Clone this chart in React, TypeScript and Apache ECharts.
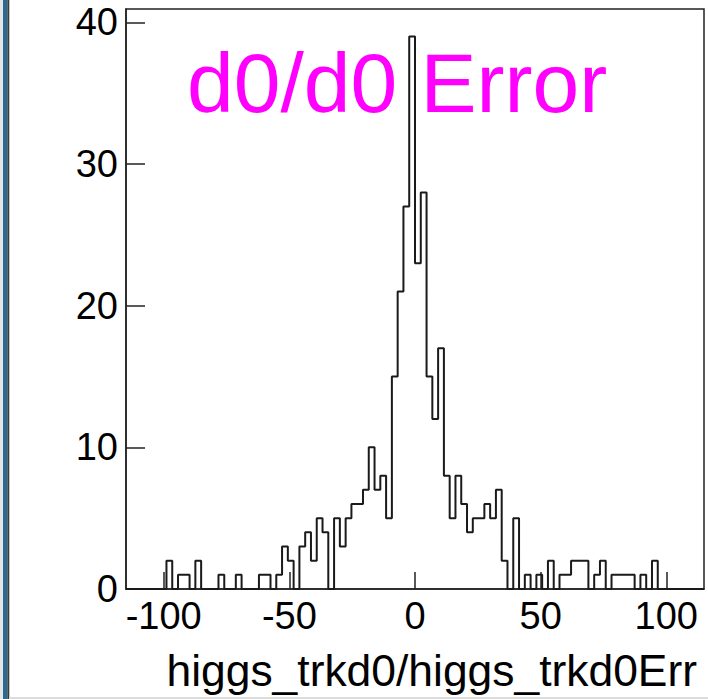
import React, { useEffect, useRef } from "react";
import * as echarts from "echarts";

// Histogram definition (100 bins from -115 to 115)
const binRangeMin = -115;
const binRangeMax = 115;
const binCounts = [
  0, 0, 0, 0, 0, 0, 0, 2, 0, 1,
  1, 0, 2, 0, 0, 0, 1, 0, 0, 1,
  0, 0, 0, 1, 1, 0, 1, 3, 2, 0,
  3, 4, 2, 5, 4, 0, 5, 3, 5, 6,
  6, 7, 10, 7, 8, 5, 15, 21, 27, 39,
  23, 28, 15, 12, 17, 8, 5, 8, 6, 4,
  5, 5, 6, 5, 7, 2, 0, 5, 0, 1,
  0, 1, 0, 2, 0, 1, 1, 2, 2, 2,
  0, 1, 2, 0, 1, 1, 1, 1, 0, 1,
  0, 2, 0, 0, 0, 0, 0, 0, 0, 0,
];
const xTickValues = [-100, -50, 0, 50, 100];
const yTickValues = [0, 10, 20, 30, 40];
const yAxisMax = 40.95;
const titleText = "d0/d0 Error";
const xAxisTitle = "higgs_trkd0/higgs_trkd0Err";

const FONT = '"Liberation Sans", Arial, Helvetica, sans-serif';

export default function App() {
  const ref = useRef<HTMLDivElement>(null);
  useEffect(() => {
    const chart = echarts.init(ref.current!, null, { renderer: "svg" });
    const bw = (binRangeMax - binRangeMin) / binCounts.length;
    const stepData: number[][] = binCounts.map((c, i) => [binRangeMin + i * bw, c]);
    stepData.push([binRangeMax, binCounts[binCounts.length - 1]]);

    chart.setOption({
      animation: false,
      backgroundColor: "#ffffff",
      grid: {
        left: 126,
        top: 9,
        width: 578,
        height: 580,
        show: true,
        borderColor: "#222",
        borderWidth: 1.5,
        backgroundColor: "transparent",
      },
      xAxis: {
        type: "value",
        min: binRangeMin,
        max: binRangeMax,
        axisLine: { show: true, onZero: false, lineStyle: { color: "#222", width: 1.5 } },
        axisTick: {
          show: true,
          inside: true,
          length: 17,
          customValues: xTickValues,
          lineStyle: { color: "#222", width: 1.5 },
        },
        axisLabel: {
          show: true,
          customValues: xTickValues,
          margin: 8,
          fontSize: 38,
          fontFamily: FONT,
          color: "#000",
        },
        splitLine: { show: false },
      },
      yAxis: {
        type: "value",
        min: 0,
        max: yAxisMax,
        axisLine: { show: true, onZero: false, lineStyle: { color: "#222", width: 1.5 } },
        axisTick: {
          show: true,
          inside: true,
          length: 19,
          customValues: yTickValues,
          lineStyle: { color: "#222", width: 1.5 },
        },
        axisLabel: {
          show: true,
          customValues: yTickValues,
          margin: 8,
          fontSize: 38,
          fontFamily: FONT,
          color: "#000",
        },
        splitLine: { show: false },
      },
      series: [
        {
          type: "line",
          step: "end",
          data: stepData,
          symbol: "none",
          lineStyle: { color: "#1a1a1a", width: 2 },
          z: 3,
        },
      ],
      graphic: [
        { type: "rect", shape: { x: 0, y: 0, width: 3, height: 699 }, style: { fill: "#e6e6e6" }, silent: true },
        { type: "rect", shape: { x: 3, y: 0, width: 4.3, height: 699 }, style: { fill: "#2b6a92" }, silent: true },
        { type: "rect", shape: { x: 7.3, y: 0, width: 2, height: 699 }, style: { fill: "#3c3c3c" }, silent: true },
        { type: "rect", shape: { x: 9.3, y: 697, width: 699, height: 2 }, style: { fill: "#dcdcdc" }, silent: true },
        {
          type: "text",
          x: 187,
          y: 83,
          style: {
            text: titleText,
            fill: "#ff00ff",
            fontSize: 84,
            fontFamily: FONT,
            align: "left",
            verticalAlign: "middle",
          },
          z: 10,
        },
        {
          type: "text",
          x: 697,
          y: 670,
          style: {
            text: xAxisTitle,
            fill: "#000",
            fontSize: 44.4,
            fontFamily: FONT,
            align: "right",
            verticalAlign: "middle",
          },
        },
      ],
    });
    return () => chart.dispose();
  }, []);
  return (
    <div
      ref={ref}
      style={{ position: "fixed", left: 0, top: 0, width: 708, height: 699, background: "#fff" }}
    />
  );
}
